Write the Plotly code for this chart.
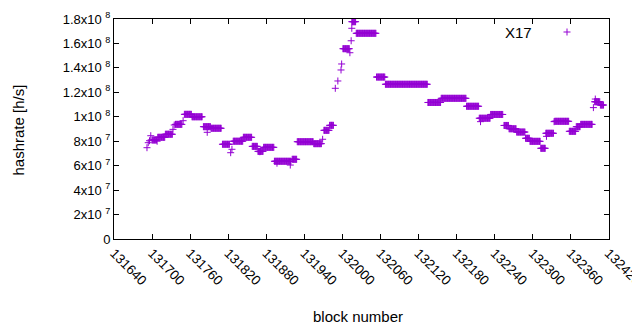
import plotly.graph_objects as go

# Plateau segments: first block, last block, hashrate (in 1e6 h/s)
seg_start = [131700, 131709, 131721, 131737, 131751, 131763, 131781, 131793, 131811, 131828,
             131844, 131858, 131867, 131876, 131893, 131921, 131929, 131955, 131971, 131980,
             132001, 132015, 132022, 132054, 132068, 132135, 132156, 132196, 132216, 132234,
             132255, 132263, 132275, 132289, 132296, 132313, 132321, 132335, 132358, 132369,
             132376, 132398, 132407]
seg_end = [131707, 131720, 131732, 131747, 131762, 131779, 131792, 131809, 131822, 131843,
           131857, 131866, 131875, 131892, 131919, 131928, 131954, 131967, 131979, 131986,
           132011, 132021, 132053, 132067, 132134, 132155, 132195, 132215, 132233, 132253,
           132262, 132274, 132288, 132295, 132312, 132320, 132333, 132357, 132368, 132375,
           132394, 132406, 132412]
seg_value = [81.0, 83.2, 85.7, 93.8, 102.0, 100.0, 91.9, 90.6, 77.5, 80.0,
             83.2, 75.8, 71.7, 75.0, 63.6, 65.2, 79.6, 78.0, 88.9, 93.0,
             155.7, 177.8, 168.3, 132.5, 126.6, 111.7, 115.1, 108.6, 98.8, 101.9,
             92.9, 90.2, 87.5, 82.4, 79.9, 74.2, 86.5, 96.3, 88.1, 91.9,
             93.8, 112.3, 109.6]

# Isolated points (block, hashrate in 1e6 h/s)
pt_block = [131692, 131694, 131696, 131698, 131708, 131733, 131735, 131749, 131787, 131824,
            131826, 131870, 131897, 131918, 131969, 131989, 131993, 131998, 131999, 132012,
            132014, 132015, 132218, 132322, 132334, 132396, 132399]
pt_value = [74.7, 78.8, 80.4, 84.5, 80.0, 89.7, 93.3, 96.8, 87.3, 70.6,
            73.4, 71.4, 62.0, 60.5, 81.6, 123.3, 129.3, 138.3, 143.2, 152.4,
            162.2, 172.4, 96.0, 84.0, 96.0, 107.5, 114.5]

y_tickvals = [0, 2e7, 4e7, 6e7, 8e7, 1e8, 1.2e8, 1.4e8, 1.6e8, 1.8e8]
y_ticktext = ["0", "2x10 <sup>7</sup>", "4x10 <sup>7</sup>", "6x10 <sup>7</sup>", "8x10 <sup>7</sup>",
              "1x10 <sup>8</sup>", "1.2x10 <sup>8</sup>", "1.4x10 <sup>8</sup>", "1.6x10 <sup>8</sup>",
              "1.8x10 <sup>8</sup>"]
x_tickvals = list(range(131640, 132421, 60))

xs, ys = [], []
for s, e, v in zip(seg_start, seg_end, seg_value):
    for b in range(s, e + 1):
        xs.append(b)
        ys.append(v * 1e6)
for b, v in zip(pt_block, pt_value):
    xs.append(b)
    ys.append(v * 1e6)

color = "#9400D3"
fig = go.Figure()
fig.add_trace(go.Scatter(
    x=xs, y=ys, mode="markers", name="X17", showlegend=False,
    marker=dict(symbol="cross-thin", size=5, color=color, line=dict(color=color, width=1)),
))

font = "Liberation Sans, Arial, sans-serif"
# page has an 8px body margin: figure is sized so that it fills the 640x330 window
OFF = 8
W, H = 640 - OFF, 330 - OFF
ml, mt = 114 - OFF, 19 - OFF
mr = W - (609 - OFF)
mb = H - (239 - OFF)
pw, ph = W - ml - mr, H - mt - mb

# legend entry (gnuplot-style key: text then sample)
lx = (567 - 114) / pw
ly = (239 - 32) / ph
dx, dy = 3.5 / pw, 3.5 / ph
shapes = [
    dict(type="line", xref="paper", yref="paper", x0=lx - dx, x1=lx + dx, y0=ly, y1=ly,
         line=dict(color=color, width=1)),
    dict(type="line", xref="paper", yref="paper", x0=lx, x1=lx, y0=ly - dy, y1=ly + dy,
         line=dict(color=color, width=1)),
]
annotations = [
    dict(text="X17", xref="paper", yref="paper", x=(534 - 114) / pw, y=ly,
         xanchor="right", yanchor="middle", showarrow=False,
         font=dict(family=font, size=15, color="black")),
    dict(text="block number", xref="paper", yref="paper", x=(358 - 114) / pw, y=-(316 - 239) / ph,
         xanchor="center", yanchor="middle", showarrow=False,
         font=dict(family=font, size=15, color="black")),
    dict(text="hashrate [h/s]", xref="paper", yref="paper", x=-(114 - 17.5) / pw, y=(239 - 130) / ph,
         xanchor="center", yanchor="middle", showarrow=False, textangle=-90,
         font=dict(family=font, size=15, color="black")),
]

fig.update_layout(
    width=W, height=H,
    margin=dict(l=ml, r=mr, t=mt, b=mb, pad=0),
    paper_bgcolor="white", plot_bgcolor="white",
    font=dict(family=font, size=12, color="black"),
    shapes=shapes, annotations=annotations,
    xaxis=dict(
        range=[131640, 132420.6], tickvals=x_tickvals, ticktext=[str(v) for v in x_tickvals],
        tickangle=45, ticks="inside", ticklen=5, tickcolor="black",
        showline=True, linecolor="black", linewidth=1, mirror="ticks",
        showgrid=False, zeroline=False, automargin=False,
        ticklabeloverflow="allow",
        tickfont=dict(size=13.5),
    ),
    yaxis=dict(
        range=[0, 1.8e8], tickvals=y_tickvals, ticktext=y_ticktext,
        ticks="inside", ticklen=5, tickcolor="black",
        showline=True, linecolor="black", linewidth=1, mirror="ticks",
        showgrid=False, zeroline=False, automargin=False,
        tickfont=dict(size=13),
    ),
)

fig.write_html("out.html")
